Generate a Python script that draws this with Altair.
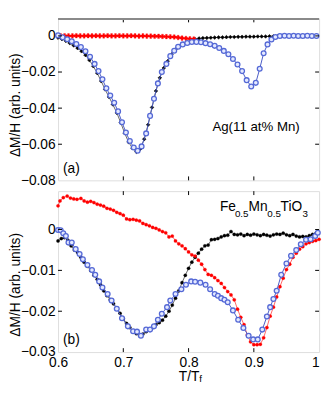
import altair as alt
import pandas as pd

FONT = "Liberation Sans"

# ---------------- panel (a): Ag(11 at% Mn) ----------------
a_blue_T = [0.600, 0.607, 0.614, 0.621, 0.628, 0.635, 0.642, 0.649, 0.656, 0.662,
            0.668, 0.674, 0.680, 0.686, 0.692, 0.698, 0.704, 0.710, 0.716, 0.722,
            0.728, 0.735, 0.741, 0.747, 0.753, 0.759, 0.766, 0.772, 0.778, 0.784,
            0.791, 0.798, 0.805, 0.812, 0.819, 0.826, 0.833, 0.840, 0.847, 0.854,
            0.861, 0.868, 0.875, 0.882, 0.889, 0.896, 0.903, 0.909, 0.915, 0.921,
            0.927, 0.933, 0.940, 0.947, 0.954, 0.961, 0.968, 0.975, 0.982, 0.989,
            0.996]
a_blue_v = [0.0003, -0.0008, -0.0018, -0.0030, -0.0045, -0.0062, -0.0085, -0.0115, -0.0155, -0.0195,
            -0.0240, -0.0290, -0.0330, -0.0370, -0.0418, -0.0478, -0.0535, -0.0582, -0.0618, -0.0636,
            -0.0612, -0.0540, -0.0443, -0.0348, -0.0263, -0.0200, -0.0155, -0.0112, -0.0082, -0.0060,
            -0.0047, -0.0039, -0.0034, -0.0033, -0.0035, -0.0040, -0.0046, -0.0055, -0.0067, -0.0083,
            -0.0102, -0.0128, -0.0158, -0.0195, -0.0245, -0.0280, -0.0260, -0.0182, -0.0096, -0.0047,
            -0.0020, -0.0006, 0.0000, 0.0001, 0.0000, 0.0001, 0.0000, 0.0000, 0.0001, 0.0000,
            0.0000]

a_black_T = [0.600, 0.606, 0.612, 0.618, 0.624, 0.630, 0.636, 0.642, 0.648, 0.654,
             0.660, 0.666, 0.672, 0.678, 0.684, 0.690, 0.696, 0.702, 0.708, 0.714,
             0.720, 0.726, 0.732, 0.738, 0.744, 0.750, 0.756, 0.762, 0.768, 0.774,
             0.780, 0.786, 0.792, 0.798, 0.804, 0.810, 0.816, 0.822, 0.828, 0.834,
             0.840, 0.846, 0.852, 0.858, 0.864, 0.870, 0.876, 0.882, 0.888, 0.894,
             0.900, 0.906, 0.912, 0.918, 0.924, 0.930, 0.936, 0.942, 0.948, 0.954,
             0.960, 0.966, 0.972, 0.978, 0.984, 0.990, 0.996]
a_black_v = [-0.0010, -0.0018, -0.0028, -0.0040, -0.0053, -0.0068, -0.0085, -0.0106, -0.0134, -0.0168,
             -0.0206, -0.0250, -0.0296, -0.0338, -0.0380, -0.0426, -0.0480, -0.0538, -0.0588, -0.0622,
             -0.0642, -0.0626, -0.0572, -0.0492, -0.0396, -0.0305, -0.0232, -0.0178, -0.0140, -0.0102,
             -0.0075, -0.0057, -0.0045, -0.0036, -0.0027, -0.0018, -0.0014, -0.0012, -0.0011, -0.0010,
             -0.0009, -0.0008, -0.0008, -0.0007, -0.0006, -0.0006, -0.0005, -0.0005, -0.0004, -0.0004,
             -0.0004, -0.0003, -0.0003, -0.0003, -0.0002, -0.0002, -0.0002, -0.0001, -0.0001, -0.0001,
             -0.0001, -0.0001, -0.0001, -0.0001, -0.0001, -0.0001, -0.0001]

a_red_T = [0.604, 0.610, 0.616, 0.622, 0.628, 0.634, 0.640, 0.646, 0.652, 0.658,
           0.664, 0.670, 0.676, 0.682, 0.688, 0.694, 0.700, 0.706, 0.712, 0.718,
           0.724, 0.730, 0.736, 0.742, 0.748, 0.754, 0.760, 0.766, 0.772, 0.778,
           0.784, 0.790, 0.796, 0.802, 0.808]
a_red_v = [0.0000, 0.0001, 0.0000, 0.0000, 0.0001, 0.0000, 0.0000, 0.0001, 0.0000, 0.0001,
           0.0000, 0.0000, 0.0001, 0.0000, 0.0000, 0.0001, 0.0000, 0.0000, 0.0001, 0.0000,
           -0.0001, 0.0000, -0.0001, -0.0001, -0.0002, -0.0002, -0.0003, -0.0004, -0.0005, -0.0006,
           -0.0009, -0.0012, -0.0014, -0.0016, -0.0017]

# ---------------- panel (b): Fe0.5Mn0.5TiO3 ----------------
b_blue_T = [0.600, 0.604, 0.608, 0.612, 0.616, 0.621, 0.627, 0.633, 0.638, 0.645,
            0.652, 0.657, 0.663, 0.668, 0.676, 0.682, 0.690, 0.698, 0.707, 0.715,
            0.721, 0.727, 0.735, 0.741, 0.747, 0.753, 0.759, 0.767, 0.772, 0.780,
            0.789, 0.796, 0.804, 0.810, 0.818, 0.826, 0.833, 0.840, 0.845, 0.850,
            0.855, 0.860, 0.868, 0.876, 0.884, 0.892, 0.899, 0.906, 0.913, 0.920,
            0.925, 0.930, 0.935, 0.942, 0.950, 0.957, 0.965, 0.972, 0.980, 0.987,
            0.994, 0.998]
b_blue_v = [-0.0001, -0.0002, -0.0009, -0.0016, -0.0032, -0.0032, -0.0048, -0.0060, -0.0073, -0.0087,
            -0.0099, -0.0111, -0.0127, -0.0142, -0.0158, -0.0174, -0.0194, -0.0217, -0.0237, -0.0249,
            -0.0250, -0.0260, -0.0245, -0.0245, -0.0237, -0.0221, -0.0206, -0.0190, -0.0174, -0.0158,
            -0.0146, -0.0135, -0.0127, -0.0128, -0.0130, -0.0135, -0.0146, -0.0158, -0.0162, -0.0168,
            -0.0172, -0.0178, -0.0198, -0.0221, -0.0241, -0.0260, -0.0269, -0.0269, -0.0245, -0.0213,
            -0.0190, -0.0170, -0.0150, -0.0111, -0.0083, -0.0064, -0.0050, -0.0036, -0.0025, -0.0024,
            -0.0016, -0.0008]

b_black_T = [0.600, 0.605, 0.610, 0.615, 0.620, 0.625, 0.630, 0.635, 0.640, 0.645,
             0.650, 0.655, 0.660, 0.665, 0.670, 0.675, 0.680, 0.685, 0.690, 0.695,
             0.700, 0.705, 0.710, 0.715, 0.720, 0.725, 0.730, 0.735, 0.740, 0.745,
             0.750, 0.755, 0.760, 0.765, 0.770, 0.775, 0.780, 0.785, 0.790, 0.795,
             0.800, 0.805, 0.810, 0.815, 0.820, 0.825, 0.830, 0.835, 0.840, 0.845,
             0.850, 0.855, 0.860, 0.865, 0.870, 0.875, 0.880, 0.885, 0.890, 0.895,
             0.900, 0.905, 0.910, 0.915, 0.920, 0.925, 0.930, 0.935, 0.940, 0.945,
             0.950, 0.955, 0.960, 0.965, 0.970, 0.975, 0.980, 0.985, 0.990, 0.995]
b_black_v = [-0.0028, -0.0022, -0.0020, -0.0026, -0.0040, -0.0050, -0.0056, -0.0068, -0.0080, -0.0090,
             -0.0100, -0.0112, -0.0122, -0.0135, -0.0150, -0.0162, -0.0172, -0.0182, -0.0192, -0.0205,
             -0.0218, -0.0230, -0.0240, -0.0248, -0.0255, -0.0260, -0.0256, -0.0250, -0.0245, -0.0240,
             -0.0233, -0.0228, -0.0222, -0.0212, -0.0200, -0.0185, -0.0168, -0.0150, -0.0130, -0.0112,
             -0.0095, -0.0080, -0.0068, -0.0058, -0.0048, -0.0040, -0.0038, -0.0025, -0.0024, -0.0022,
             -0.0018, -0.0015, -0.0014, -0.0005, -0.0012, -0.0013, -0.0011, -0.0015, -0.0012, -0.0014,
             -0.0011, -0.0013, -0.0015, -0.0012, -0.0014, -0.0016, -0.0013, -0.0011, -0.0012, -0.0009,
             -0.0013, -0.0015, -0.0012, -0.0016, -0.0018, -0.0017, -0.0018, -0.0015, -0.0012, -0.0010]

b_red_T = [0.600, 0.603, 0.608, 0.614, 0.619, 0.624, 0.629, 0.635, 0.640, 0.645,
           0.650, 0.655, 0.660, 0.665, 0.670, 0.675, 0.680, 0.685, 0.690, 0.695,
           0.700, 0.705, 0.710, 0.715, 0.720, 0.725, 0.730, 0.735, 0.740, 0.745,
           0.750, 0.755, 0.760, 0.765, 0.770, 0.775, 0.780, 0.785, 0.790, 0.795,
           0.800, 0.805, 0.810, 0.815, 0.820, 0.825, 0.830, 0.835, 0.840, 0.845,
           0.850, 0.855, 0.860, 0.865, 0.870, 0.875, 0.880, 0.885, 0.890, 0.895,
           0.900, 0.905, 0.910, 0.915, 0.920, 0.925, 0.930, 0.935, 0.940, 0.945,
           0.950, 0.955, 0.960, 0.965, 0.970, 0.975, 0.980, 0.985, 0.990, 0.995,
           1.000]
b_red_v = [0.0058, 0.0070, 0.0078, 0.0082, 0.0077, 0.0075, 0.0074, 0.0076, 0.0070, 0.0067,
           0.0069, 0.0066, 0.0062, 0.0060, 0.0057, 0.0052, 0.0050, 0.0047, 0.0042, 0.0039,
           0.0035, 0.0026, 0.0024, 0.0025, 0.0023, 0.0021, 0.0015, 0.0012, 0.0009, 0.0005,
           0.0003, -0.0001, -0.0005, -0.0008, -0.0018, -0.0016, -0.0028, -0.0035, -0.0040, -0.0047,
           -0.0055, -0.0062, -0.0065, -0.0075, -0.0085, -0.0098, -0.0110, -0.0112, -0.0118, -0.0125,
           -0.0132, -0.0142, -0.0152, -0.0160, -0.0172, -0.0195, -0.0215, -0.0233, -0.0258, -0.0275,
           -0.0282, -0.0282, -0.0281, -0.0265, -0.0240, -0.0212, -0.0190, -0.0165, -0.0140, -0.0119,
           -0.0098, -0.0085, -0.0068, -0.0058, -0.0048, -0.0042, -0.0035, -0.0032, -0.0029, -0.0027,
           -0.0024]

# axis ticks / ranges
x_ticks = [0.6, 0.7, 0.8, 0.9, 1.0]
x_inner_ticks = [0.7, 0.8, 0.9]
a_y_ticks = [0.0, -0.02, -0.04, -0.06, -0.08]
b_y_ticks = [0.0, -0.01, -0.02, -0.03]
a_ydom = [-0.08, 0.0097]
b_ydom = [-0.03, 0.0094]
xdom = [0.6, 1.0]

W, HA, HB = 266, 165, 164
BLUE_LINE = "#4a5cc6"
BLUE_STROKE = "#5569d6"
BLUE_FILL = "#e4e9ff"


def make_panel(series, ydom, yticks, height, texts, show_x, title_y):
    xs = alt.Scale(domain=xdom, nice=False, zero=False)
    ys = alt.Scale(domain=ydom, nice=False, zero=False)
    if show_x:
        xaxis = alt.Axis(values=x_ticks, title="T/T", ticks=False, domain=False, grid=False,
                         labelPadding=4, labelFontSize=14, labelFont=FONT, labelColor="black",
                         labelExpr="datum.value == 1 ? '1' : format(datum.value, '.1f')",
                         labelAlign={"condition": {"test": "datum.value == 1", "value": "right"},
                                     "value": "center"},
                         titleFont=FONT, titleFontSize=14, titleFontWeight="normal",
                         titleColor="black", titlePadding=0)
    else:
        xaxis = None
    yaxis = alt.Axis(values=yticks, title="ΔM/H (arb. units)", ticks=False, domain=False, grid=False,
                     labelPadding=3, labelFontSize=14, labelFont=FONT, labelColor="black",
                     labelExpr="datum.value == 0 ? '0' : format(datum.value, '.2f')",
                     titleFont=FONT, titleFontSize=14, titleFontWeight="normal", titleColor="black",
                     titleBaseline="middle", titleX=-43, titleY=title_y)
    X = alt.X("T:Q", scale=xs, axis=xaxis)
    Y = alt.Y("v:Q", scale=ys, axis=yaxis)
    layers = []
    for s in series:
        df = pd.DataFrame({"T": s["T"], "v": s["v"]})
        base = alt.Chart(df)
        layers.append(base.mark_line(color=s["line"], strokeWidth=s["lw"]).encode(x=X, y=Y))
        layers.append(base.mark_point(shape=s["shape"], size=s["size"], filled=s["filled"],
                                      fill=s["fill"], stroke=s["stroke"], strokeWidth=s["sw"],
                                      opacity=1).encode(x=X, y=Y))
    # inward ticks
    ylen = (ydom[1] - ydom[0]) * 4.0 / height
    xlen = (xdom[1] - xdom[0]) * 4.0 / W
    inner_y = [t for t in yticks if ydom[0] < t < ydom[1]]
    tk = []
    for t in inner_y:
        tk.append({"T": xdom[0], "T2": xdom[0] + xlen, "v": t, "v2": t})
        tk.append({"T": xdom[1] - xlen, "T2": xdom[1], "v": t, "v2": t})
    for t in x_inner_ticks:
        tk.append({"T": t, "T2": t, "v": ydom[0], "v2": ydom[0] + ylen})
        tk.append({"T": t, "T2": t, "v": ydom[1] - ylen, "v2": ydom[1]})
    tdf = pd.DataFrame(tk)
    layers.append(alt.Chart(tdf).mark_rule(color="black", strokeWidth=1).encode(
        x=X, x2="T2:Q", y=Y, y2="v2:Q"))
    # texts
    for t in texts:
        tdf2 = pd.DataFrame([t])
        layers.append(alt.Chart(tdf2).mark_text(font=FONT, fontSize=t["fs"], align=t["align"],
                                                baseline="alphabetic", color="black").encode(
            x=X, y=Y, text="txt:N"))
    return alt.layer(*layers).properties(width=W, height=height)


a_series = [
    dict(T=a_black_T, v=a_black_v, line="black", lw=0.6, shape="diamond", size=14, filled=True,
         fill="black", stroke="black", sw=0.5),
    dict(T=a_red_T, v=a_red_v, line="red", lw=0.6, shape="cross", size=22, filled=True,
         fill="red", stroke="red", sw=0.3),
    dict(T=a_blue_T, v=a_blue_v, line=BLUE_LINE, lw=1.0, shape="circle", size=24, filled=True,
         fill=BLUE_FILL, stroke=BLUE_STROKE, sw=1.3),
]
b_series = [
    dict(T=b_black_T, v=b_black_v, line="black", lw=0.6, shape="circle", size=11, filled=True,
         fill="black", stroke="black", sw=0.3),
    dict(T=b_red_T, v=b_red_v, line="red", lw=0.6, shape="circle", size=11, filled=True,
         fill="red", stroke="red", sw=0.3),
    dict(T=b_blue_T, v=b_blue_v, line=BLUE_LINE, lw=1.0, shape="circle", size=24, filled=True,
         fill=BLUE_FILL, stroke=BLUE_STROKE, sw=1.3),
]

a_texts = [
    {"T": 0.9034, "v": -0.0524, "txt": "Ag(11 at% Mn)", "fs": 13.5, "align": "center"},
    {"T": 0.6075, "v": -0.0762, "txt": "(a)", "fs": 14, "align": "left"},
]
b_texts = [
    {"T": 0.6075, "v": -0.0281, "txt": "(b)", "fs": 14, "align": "left"},
    {"T": 0.8480, "v": 0.0046, "txt": "Fe", "fs": 14, "align": "left"},
    {"T": 0.8710, "v": 0.00295, "txt": "0.5", "fs": 10, "align": "left"},
    {"T": 0.8920, "v": 0.0046, "txt": "Mn", "fs": 14, "align": "left"},
    {"T": 0.9205, "v": 0.00295, "txt": "0.5", "fs": 10, "align": "left"},
    {"T": 0.9410, "v": 0.0046, "txt": "TiO", "fs": 14, "align": "left"},
    {"T": 0.9745, "v": 0.00295, "txt": "3", "fs": 10, "align": "left"},
]

pa = make_panel(a_series, a_ydom, a_y_ticks, HA, a_texts, False, 88)
top_frame = alt.Chart(pd.DataFrame({"k": [0]})).mark_rule(color="#8a8a8a", strokeWidth=2).encode(
    x=alt.value(0), x2=alt.value(W), y=alt.value(0.5))
pa = alt.layer(pa, top_frame)

pb = make_panel(b_series, b_ydom, b_y_ticks, HB, b_texts, True, 95)
sub_f = alt.Chart(pd.DataFrame({"T": [0.8165], "txt": ["f"]})).mark_text(
    font=FONT, fontSize=10, align="left", baseline="alphabetic", color="black").encode(
    x=alt.X("T:Q", scale=alt.Scale(domain=xdom, nice=False, zero=False)),
    y=alt.value(HB + 30), text="txt:N")
pb = alt.layer(pb, sub_f)

chart = alt.vconcat(pa, pb, spacing=11, bounds="flush").properties(
    padding={"left": 0, "top": 6, "right": 0, "bottom": 0}
).configure_view(stroke="black", strokeWidth=1).configure(background="white")

chart.save("out.html", embed_options={"renderer": "svg", "actions": False})
